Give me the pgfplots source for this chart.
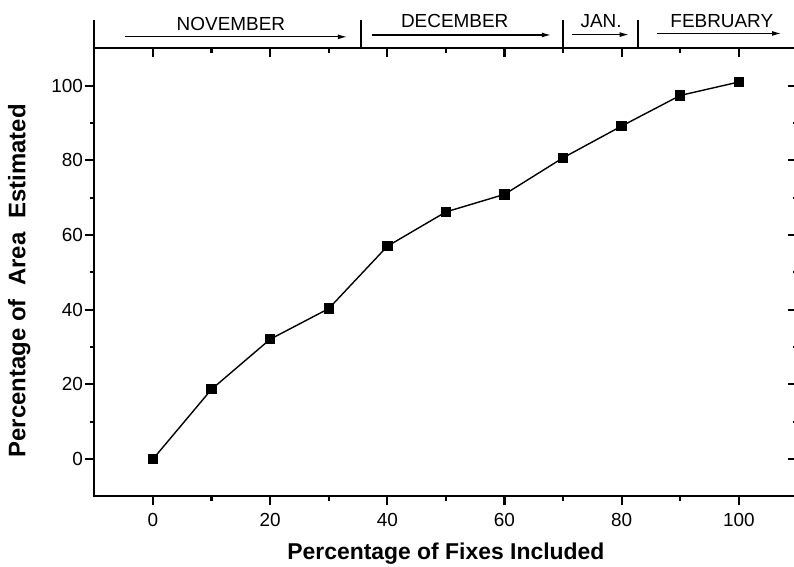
\documentclass[border=0pt]{standalone}
\usepackage{fontspec}
\setmainfont{Liberation Sans}
\usepackage{pgfplots}
\pgfplotsset{compat=1.18}
\usetikzlibrary{arrows.meta}
\begin{document}
\begin{tikzpicture}
\pgfplotsset{
  common/.style={
    at={(0,0)}, anchor=south west,
    scale only axis, width=703bp, height=448bp,
    xmin=-10, xmax=110, ymin=-10, ymax=110,
    xtick={0,20,...,100}, minor xtick={10,30,...,90},
    ytick={0,20,...,100}, minor ytick={10,30,...,90},
    axis line style={line width=2bp},
    every tick/.style={line width=2.2bp, black},
    major tick length=9bp, minor tick length=4.5bp,
    /pgf/number format/assume math mode=true,
    tick label style={font=\fontsize{19}{21}\selectfont},
    clip=false,
  }}
\begin{axis}[common,
  xtick pos=left, ytick pos=left, tick align=outside,
  xlabel={Percentage of Fixes Included},
  ylabel={Percentage of\hspace{0.3em} Area\hspace{0.3em} Estimated},
  xlabel style={font=\bfseries\fontsize{23}{25}\selectfont,
    at={(axis description cs:0.5,-0.1275)}, anchor=center},
  ylabel style={font=\bfseries\fontsize{24}{26}\selectfont,
    at={(axis description cs:-0.107,0.481)}, anchor=center},
  xticklabel style={yshift=-4bp},
  yticklabel style={xshift=1bp},
]
\addplot[black, line width=1.4bp, mark=square*, mark size=4.5bp,
  mark options={solid, fill=black}] coordinates {
  (0,0) (10,18.7) (20,32.1) (30,40.3) (40,57.0) (50,66.2)
  (60,70.9) (70,80.7) (80,89.2) (90,97.4) (100,101.0)
};
% month band above the plot
\draw[line width=2bp] (axis cs:-10,110) -- (axis cs:-10,117.5);
\draw[line width=1.3bp] (axis cs:35.5,110) -- (axis cs:35.5,117.5);
\draw[line width=1.3bp] (axis cs:70,110) -- (axis cs:70,117.5);
\draw[line width=1.3bp] (axis cs:82.8,110) -- (axis cs:82.8,117.5);
\tikzset{marr/.style={line width=1.1bp, -{Latex[length=9bp,width=5bp]}}}
\draw[marr] (axis cs:-4.8,113.1) -- (axis cs:33.1,113.1);
\draw[marr] (axis cs:37.4,113.6) -- (axis cs:67.9,113.6);
\draw[marr] (axis cs:71.5,113.7) -- (axis cs:81.2,113.7);
\draw[marr] (axis cs:86,114.0) -- (axis cs:107.2,114.0);
\tikzset{mlab/.style={font=\fontsize{19}{21}\selectfont, inner sep=0pt}}
\node[mlab] at (axis cs:13.3,116.6) {NOVEMBER};
\node[mlab] at (axis cs:51.5,117.4) {DECEMBER};
\node[mlab] at (axis cs:76.5,117.4) {JAN.};
\node[mlab] at (axis cs:97.1,117.3) {FEBRUARY};
\end{axis}
\begin{axis}[common,
  xtick pos=right, ytick pos=right, tick align=inside,
  xticklabels={}, yticklabels={},
]
\end{axis}
\pgfresetboundingbox
\useasboundingbox (-94.4bp,-70.6bp) rectangle (699.6bp,496.4bp);
\end{tikzpicture}
\end{document}
